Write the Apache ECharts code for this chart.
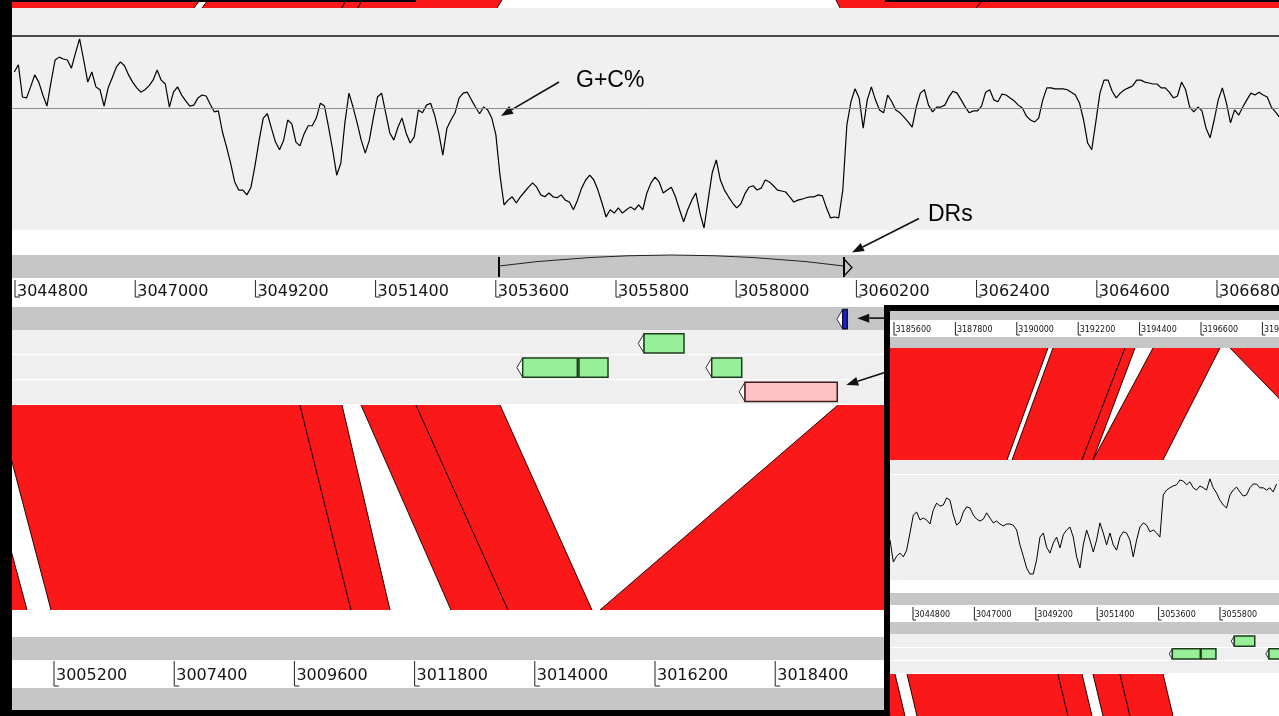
<!DOCTYPE html>
<html>
<head>
<meta charset="utf-8">
<script src="https://cdn.jsdelivr.net/npm/echarts@6/dist/echarts.min.js"></script>
<style>
  html, body { margin: 0; padding: 0; background: #fff; }
  #chart { width: 1279px; height: 716px; }
</style>
</head>
<body>
<div id="chart"></div>
<script>
// ---------- sequence windows shown in each panel (bp) ----------
const mainView     = [3044745, 3067935];   // island-bearing sequence, main view
const lowerView    = [3004431, 3027621];   // compared sequence below
const insetTopView = [3185457, 3199395];   // inset: upper sequence
const insetView    = [3043976, 3057914];   // inset: island-bearing sequence

// ---------- ruler tick labels ----------
const mainTicks     = [3044800, 3047000, 3049200, 3051400, 3053600, 3055800, 3058000, 3060200, 3062400, 3064600, 3066800];
const lowerTicks    = [3005200, 3007400, 3009600, 3011800, 3014000, 3016200, 3018400, 3020600, 3022800, 3025000, 3027200];
const insetTopTicks = [3185600, 3187800, 3190000, 3192200, 3194400, 3196600, 3198800];
const insetTicks    = [3044800, 3047000, 3049200, 3051400, 3053600, 3055800];

// ---------- G+C% sliding-window plot (main view) ----------
const gcMainStart = 3044787;
const gcMainStep = 74.7;
const gcMain = [
  72.5, 74.0, 67.3, 67.1, 69.4, 71.9, 70.4, 67.7, 65.4, 70.4,
  75.0, 75.6, 75.2, 75.0, 73.3, 76.5, 79.4, 75.0, 70.4, 72.5,
  69.4, 68.8, 65.4, 69.2, 71.3, 73.5, 74.6, 73.8, 71.9, 70.4,
  69.2, 68.3, 68.8, 69.6, 70.8, 72.9, 70.8, 70.0, 65.2, 68.3,
  69.4, 67.7, 66.5, 65.4, 65.6, 67.1, 67.7, 67.5, 65.8, 64.2,
  64.4, 60.0, 56.9, 53.5, 49.6, 47.9, 47.9, 46.9, 48.5, 53.1,
  58.3, 62.9, 63.8, 60.8, 57.9, 56.3, 58.3, 62.5, 61.7, 57.9,
  57.1, 59.6, 61.3, 61.3, 62.9, 66.0, 65.4, 61.0, 56.3, 51.0,
  53.5, 61.9, 68.1, 65.2, 61.9, 58.3, 55.6, 58.3, 63.1, 67.3,
  68.1, 64.0, 59.8, 58.3, 61.0, 62.9, 59.8, 57.7, 59.0, 64.6,
  64.0, 65.6, 66.0, 63.5, 59.8, 55.2, 60.8, 62.5, 64.0, 67.1,
  68.1, 68.3, 66.7, 65.2, 63.8, 65.2, 64.6, 62.9, 59.4, 51.0,
  44.8, 45.8, 46.5, 45.2, 46.5, 47.5, 48.5, 49.4, 48.5, 46.9,
  46.5, 47.3, 46.5, 46.3, 46.9, 45.8, 45.4, 43.8, 45.8, 48.3,
  50.0, 51.0, 50.0, 47.9, 45.2, 42.3, 43.8, 43.1, 44.2, 43.1,
  43.8, 44.4, 43.8, 44.8,
  43.8, 47.3, 49.4, 50.6, 49.6, 47.3, 47.9, 48.5, 46.5, 43.8,
  41.3, 43.8, 45.8, 47.3, 43.1, 40.0, 45.8, 51.5, 54.2, 50.0,
  47.9, 46.5, 45.2, 44.2, 45.0, 47.1, 48.5, 48.8, 47.9, 48.3,
  50.0, 49.6, 48.8, 47.9, 47.7, 47.5, 46.5, 45.4, 45.8, 46.0,
  46.3, 46.5, 46.5, 46.9, 46.7, 44.2, 42.1, 42.3, 42.1, 47.9,
  61.5, 66.3, 69.0, 67.1, 60.8, 66.7, 69.4, 66.7, 64.6, 64.0,
  67.7, 66.3, 64.6, 64.0, 63.1, 62.1, 61.0, 65.2, 68.1, 68.8,
  65.6, 64.2, 65.2, 65.2, 65.6, 67.3, 68.5, 68.1, 66.7, 65.2,
  64.0, 64.4, 64.4, 65.4, 68.3, 68.8, 66.7, 66.3, 67.9, 67.7,
  67.1, 66.5, 65.6, 65.0, 63.3, 62.5, 62.1, 62.9, 66.7, 69.2,
  69.2, 69.0, 69.0, 69.0, 68.8, 68.3, 67.7, 66.0, 62.5, 57.7,
  56.3, 62.1, 68.1, 70.8, 70.8, 68.5, 67.1, 68.1, 68.8, 69.2,
  69.6, 70.8, 70.8, 70.4, 70.2, 70.0, 70.0, 69.2, 69.2, 68.3,
  67.1, 67.5, 70.4, 68.8, 65.2, 64.2, 65.2, 64.4, 60.8, 58.8,
  62.5, 66.7, 69.2, 66.0, 61.9, 64.6, 63.5, 65.2, 66.7, 68.1,
  67.7, 68.3, 67.7, 67.3, 65.2, 64.2, 63.1
];

// ---------- G+C% plot (inset view) ----------
const gcInsetStart = 3043976;
const gcInsetStep = 119.4;
const gcInset = [
  62.3, 56.4, 58.0, 58.8, 57.8, 59.6, 64.2, 69.0, 69.8, 67.7,
  68.2, 67.7, 66.6, 70.4, 72.2, 71.4, 71.7, 73.6, 73.0, 69.0,
  66.3, 67.1, 69.8, 71.2, 70.9, 69.0, 67.9, 67.4, 67.9, 69.6,
  68.2, 66.9, 67.4, 66.6, 66.1, 66.6, 66.6, 66.3, 65.0, 61.0,
  58.0, 54.8, 53.2, 53.2, 57.0, 63.1, 64.2, 60.4, 58.8, 61.5,
  63.1, 60.2, 63.7, 65.0, 65.8, 63.1, 57.8, 54.8, 61.0, 65.0,
  62.3, 59.1, 62.3, 66.9, 64.2, 61.0, 64.2, 61.0, 59.6, 63.1,
  64.5, 64.2, 62.3, 57.8, 62.3, 65.8, 66.9, 66.3, 64.5, 65.0,
  64.2, 63.1, 74.4, 75.7, 76.3, 76.8, 77.1, 78.4, 78.1, 77.1,
  77.9, 76.3, 75.7, 76.8, 76.3, 75.7, 78.7, 76.3, 74.9, 73.0,
  71.7, 70.9, 74.4, 75.7, 76.5, 75.2, 74.1, 74.4, 76.3, 77.3,
  77.3, 76.3, 76.3, 75.7, 76.3, 75.2, 77.3
];

// ---------- direct repeats bounding the island ----------
const drRegion = [3053659, 3059973];

// ---------- annotated features (reverse strand) ----------
const geneStart = [3059949, 3056313, 3054092, 3055123, 3057552, 3058161];
const geneEnd   = [3060033, 3057045, 3055092, 3055654, 3058101, 3059850];
const geneTrack = [0, 1, 2, 2, 2, 3];
const geneType  = ['repeat', 'CDS', 'CDS', 'CDS', 'CDS', 'pseudogene'];

// ---------- sequence matches: [upperStart, upperEnd, lowerStart, lowerEnd] ----------
const mainMatches = [
  [3043427, 3044013, 3004029, 3004706],
  [3044471, 3050016, 3005145, 3010636],
  [3050016, 3050785, 3010636, 3011350],
  [3051133, 3052139, 3012466, 3013510],
  [3052139, 3053677, 3013510, 3015047],
  [3059863, 3068136, 3015193, 3027823]
];
// matches leaving the main view upwards (edge positions at the top and bottom of the strip)
const stripMatches = [
  [3044342, 3048186, 3044342, 3048076],
  [3048332, 3050858, 3048223, 3050785],
  [3050858, 3051151, 3050785, 3051078],
  [3051151, 3053714, 3051078, 3053622],
  [3059827, 3062517, 3059900, 3062389],
  [3062517, 3068319, 3062389, 3068319]
];
// inset: upper sequence vs island-bearing sequence
const insetMatches = [
  [3184382, 3191118, 3042901, 3048168],
  [3191297, 3193877, 3048347, 3050855],
  [3193877, 3194235, 3050855, 3051249],
  [3194880, 3197281, 3051249, 3053758],
  [3197639, 3203730, 3060064, 3064041]
];
// inset: matches leaving the inset downwards
const insetLowMatches = [
  [3043618, 3044155, 3043976, 3044513],
  [3044585, 3049995, 3044943, 3050354],
  [3049995, 3050855, 3050354, 3051214],
  [3051249, 3052217, 3051608, 3052575],
  [3052217, 3053758, 3052575, 3054116]
];

// ---------- styling ----------
const RED = '#fa1818';
const EDGE = '#2a0000';
const GRAY = '#c6c6c6';
const LIGHT = '#efefef';
const geneFill = { repeat: '#1a22c8', CDS: '#97f097', pseudogene: '#ffc2c2' };
const geneStroke = { repeat: '#10103a', CDS: '#1d3d1d', pseudogene: '#3d1d1d' };

const chart = echarts.init(document.getElementById('chart'), null, { renderer: 'canvas' });

function matchRender(offset) {
  return function (params, api) {
    const tl = api.coord([api.value(0), 1]);
    const tr = api.coord([api.value(1), 1]);
    const bl = api.coord([api.value(2) + offset, 0]);
    const br = api.coord([api.value(3) + offset, 0]);
    return {
      type: 'group',
      children: [
        { type: 'polygon', shape: { points: [tl, tr, br, bl] }, style: { fill: RED } },
        { type: 'line', shape: { x1: tl[0], y1: tl[1], x2: bl[0], y2: bl[1] }, style: { stroke: EDGE, lineWidth: 1 } },
        { type: 'line', shape: { x1: tr[0], y1: tr[1], x2: br[0], y2: br[1] }, style: { stroke: EDGE, lineWidth: 1 } }
      ]
    };
  };
}

function rulerRender(o) {
  return function (params, api) {
    const x = api.coord([api.value(0), 0])[0];
    const top = params.coordSys.y;
    const t0 = top + o.tickTop, t1 = top + o.tickBottom;
    return {
      type: 'group',
      children: [
        { type: 'line', shape: { x1: x, y1: t0, x2: x, y2: t1 }, style: { stroke: '#222', lineWidth: 1 } },
        { type: 'line', shape: { x1: x, y1: t1, x2: x + o.foot, y2: t1 }, style: { stroke: '#222', lineWidth: 1 } },
        { type: 'text', style: { text: String(api.value(0)), x: x + o.gap, y: top + o.labelY,
          font: o.font, fill: '#151515', verticalAlign: 'middle', align: 'left' } }
      ]
    };
  };
}

function geneRender(params, api) {
  const kind = geneType[params.dataIndex];
  const tr = api.value(2);
  const p0 = api.coord([api.value(0), tr + 0.1]);
  const p1 = api.coord([api.value(1), tr + 0.9]);
  const x0 = p0[0], x1 = p1[0], y0 = p0[1], y1 = p1[1];
  const h = y1 - y0;
  const tip = Math.max(3, h * 0.3);
  return {
    type: 'group',
    children: [
      { type: 'polygon', z2: 1, shape: { points: [[x0 - tip, (y0 + y1) / 2], [x0, y0], [x0, y1]] },
        style: { fill: '#ffffff', stroke: '#333', lineWidth: 1 } },
      { type: 'rect', z2: 2, shape: { x: x0, y: y0, width: Math.max(2, x1 - x0), height: h },
        style: { fill: geneFill[kind], stroke: geneStroke[kind], lineWidth: 1.5 } }
    ]
  };
}

function drRender(params, api) {
  const s = api.coord([api.value(0), 0.5])[0];
  const e = api.coord([api.value(1), 0.5])[0];
  const top = params.coordSys.y, bot = top + params.coordSys.height;
  const yl = top + 11;
  return {
    type: 'group',
    children: [
      { type: 'line', shape: { x1: s, y1: top + 2, x2: s, y2: bot - 1 }, style: { stroke: '#000', lineWidth: 2 } },
      { type: 'bezierCurve', shape: { x1: s, y1: yl, x2: e, y2: yl, cpx1: (s + e) / 2, cpy1: top - 11 },
        style: { stroke: '#222', lineWidth: 1.2, fill: 'none' } },
      { type: 'line', shape: { x1: e, y1: top + 2, x2: e, y2: bot - 1 }, style: { stroke: '#000', lineWidth: 2 } },
      { type: 'polygon', shape: { points: [[e, top + 4], [e + 8, top + 12.5], [e, bot - 2]] },
        style: { fill: 'none', stroke: '#000', lineWidth: 1.2 } }
    ]
  };
}

// ---------- layout ----------
const grids = [
  { left: 12,  top: 36,  width: 1267, height: 192 },   // 0 main G+C%
  { left: 12,  top: 255, width: 1267, height: 23 },    // 1 DR bracket
  { left: 12,  top: 278, width: 1267, height: 28 },    // 2 main ruler
  { left: 12,  top: 307, width: 1267, height: 97 },    // 3 feature tracks
  { left: 12,  top: 405, width: 1267, height: 205 },   // 4 comparison
  { left: 12,  top: 0,   width: 1267, height: 8 },     // 5 comparison strip above
  { left: 12,  top: 660, width: 1267, height: 28 },    // 6 lower ruler
  { left: 890, top: 320, width: 389,  height: 17 },    // 7 inset upper ruler
  { left: 890, top: 348, width: 389,  height: 112 },   // 8 inset comparison
  { left: 890, top: 474, width: 389,  height: 149.3 }, // 9 inset G+C%
  { left: 890, top: 605, width: 389,  height: 17 },    // 10 inset ruler
  { left: 890, top: 622, width: 389,  height: 51 },    // 11 inset feature tracks
  { left: 890, top: 674, width: 389,  height: 42 }     // 12 inset comparison below
].map(g => Object.assign({ containLabel: false, show: false }, g));

const xViews = [mainView, mainView, mainView, mainView, mainView, mainView, lowerView,
                insetTopView, insetTopView, insetView, insetView, insetView, insetView];
const yRanges = [[40, 80], [0, 1], [0, 1], [0, 4, true], [0, 1], [0, 1], [0, 1],
                 [0, 1], [0, 1], [40, 80], [0, 1], [0, 4, true], [0, 1]];

const xAxis = xViews.map((v, i) => ({ type: 'value', gridIndex: i, min: v[0], max: v[1], show: false }));
const yAxis = yRanges.map((r, i) => ({ type: 'value', gridIndex: i, min: r[0], max: r[1], inverse: !!r[2], show: false }));

const mainRuler = { tickTop: 2, tickBottom: 19, labelY: 14, foot: 5, gap: 2, font: '16px "DejaVu Sans"' };
const lowRuler  = { tickTop: 1, tickBottom: 26, labelY: 16, foot: 5, gap: 2, font: '16px "DejaVu Sans"' };
const insetRuler = { tickTop: 2, tickBottom: 15, labelY: 10, foot: 3, gap: 1.5, font: '8px "DejaVu Sans"' };

const gcLine = (start, step, vals) => vals.map((v, i) => [start + i * step, v]);
const gcMarks = (w) => ({
  silent: true, symbol: ['none', 'none'], animation: false, label: { show: false },
  data: [
    { yAxis: 80, lineStyle: { color: '#4a4a4a', width: w, type: 'solid' } },
    { yAxis: 65, lineStyle: { color: '#8c8c8c', width: 1, type: 'solid' } }
  ]
});
const geneData = geneStart.map((s, i) => [s, geneEnd[i], geneTrack[i]]);

const series = [
  { type: 'line', xAxisIndex: 0, yAxisIndex: 0, z: 3, showSymbol: false, silent: true,
    data: gcLine(gcMainStart, gcMainStep, gcMain), lineStyle: { color: '#000', width: 1.2 },
    markLine: gcMarks(2) },
  { type: 'custom', xAxisIndex: 1, yAxisIndex: 1, z: 3, renderItem: drRender, data: [drRegion] },
  { type: 'custom', xAxisIndex: 2, yAxisIndex: 2, z: 3, renderItem: rulerRender(mainRuler), data: mainTicks.map(t => [t, 0]) },
  { type: 'custom', xAxisIndex: 3, yAxisIndex: 3, z: 3, clip: true, renderItem: geneRender, data: geneData },
  { type: 'custom', xAxisIndex: 4, yAxisIndex: 4, z: 2, clip: true,
    renderItem: matchRender(mainView[0] - lowerView[0]), data: mainMatches },
  { type: 'custom', xAxisIndex: 5, yAxisIndex: 5, z: 2, clip: true, renderItem: matchRender(0), data: stripMatches },
  { type: 'custom', xAxisIndex: 6, yAxisIndex: 6, z: 3, renderItem: rulerRender(lowRuler), data: lowerTicks.map(t => [t, 0]) },
  // inset
  { type: 'custom', xAxisIndex: 7, yAxisIndex: 7, z: 60, clip: true, renderItem: rulerRender(insetRuler), data: insetTopTicks.map(t => [t, 0]) },
  { type: 'custom', xAxisIndex: 8, yAxisIndex: 8, z: 60, clip: true,
    renderItem: matchRender(insetTopView[0] - insetView[0]), data: insetMatches },
  { type: 'line', xAxisIndex: 9, yAxisIndex: 9, z: 60, showSymbol: false, silent: true,
    data: gcLine(gcInsetStart, gcInsetStep, gcInset), lineStyle: { color: '#000', width: 1 },
    markLine: gcMarks(1.2) },
  { type: 'custom', xAxisIndex: 10, yAxisIndex: 10, z: 60, clip: true, renderItem: rulerRender(insetRuler), data: insetTicks.map(t => [t, 0]) },
  { type: 'custom', xAxisIndex: 11, yAxisIndex: 11, z: 60, clip: true, renderItem: geneRender, data: geneData },
  { type: 'custom', xAxisIndex: 12, yAxisIndex: 12, z: 60, clip: true, renderItem: matchRender(0), data: insetLowMatches }
];

// ---------- panel bands and frames ----------
const band = (id, x, y, w, h, fill, z) => ({ id, type: 'rect', z, silent: true, shape: { x, y, width: w, height: h }, style: { fill } });
const graphic = [
  band('b-top', 12, 8, 1267, 28, LIGHT, 1),
  band('b-gc', 12, 37, 1267, 193, '#f0f0f0', 1),
  band('b-dr', 12, 255, 1267, 23, GRAY, 1),
  band('b-t0', 12, 307, 1267, 23, GRAY, 1),
  band('b-t1', 12, 330, 1267, 24, LIGHT, 1),
  band('b-t2', 12, 355, 1267, 24, LIGHT, 1),
  band('b-t3', 12, 380, 1267, 24, LIGHT, 1),
  band('b-l1', 12, 637, 1267, 23, GRAY, 1),
  band('b-l2', 12, 688, 1267, 22, GRAY, 1),
  // inset panel
  band('i-frame', 884, 305, 395, 411, '#000', 50),
  band('i-bg', 890, 311, 389, 405, '#fff', 51),
  band('i-g1', 890, 311, 389, 9, GRAY, 52),
  band('i-g2', 890, 337, 389, 11, GRAY, 52),
  band('i-l0', 890, 460, 389, 14, '#ececec', 52),
  band('i-gc', 890, 475, 389, 105, '#f0f0f0', 52),
  band('i-g3', 890, 593, 389, 12, GRAY, 52),
  band('i-g4', 890, 622, 389, 12, GRAY, 52),
  band('i-t1', 890, 634, 389, 13, LIGHT, 52),
  band('i-t2', 890, 648, 389, 12, LIGHT, 52),
  band('i-t3', 890, 661, 389, 12, LIGHT, 52),
  // main frame
  band('f-left', 0, 0, 12, 716, '#000', 100),
  band('f-bottom', 0, 710, 884, 6, '#000', 100),
  band('f-top1', 0, 0, 416, 2, '#000', 100),
  band('f-top2', 885, 0, 394, 2, '#000', 100)
];

chart.setOption({
  animation: false,
  backgroundColor: '#ffffff',
  grid: grids,
  xAxis: xAxis,
  yAxis: yAxis,
  series: series,
  graphic: graphic
});

// ---------- call-outs anchored to the marks they label ----------
function arrow(id, tail, tip, z) {
  const dx = tip[0] - tail[0], dy = tip[1] - tail[1];
  const L = Math.hypot(dx, dy), ux = dx / L, uy = dy / L;
  const hl = 12, hw = 4.5;
  const bx = tip[0] - ux * hl, by = tip[1] - uy * hl;
  return [
    { id: id + '-line', type: 'line', z, silent: true,
      shape: { x1: tail[0], y1: tail[1], x2: bx, y2: by }, style: { stroke: '#111', lineWidth: 1.6 } },
    { id: id + '-head', type: 'polygon', z, silent: true,
      shape: { points: [tip, [bx - uy * hw, by + ux * hw], [bx + uy * hw, by - ux * hw]] }, style: { fill: '#111' } }
  ];
}
const add = (p, d) => [p[0] + d[0], p[1] + d[1]];
const calloutFont = '23px "Liberation Sans", Arial, sans-serif';

const gcTip = add(chart.convertToPixel({ gridIndex: 0 }, [drRegion[0], 65]), [2, 8]);
const gcTail = add(gcTip, [58, -34]);
const drTip = add(chart.convertToPixel({ gridIndex: 1 }, [drRegion[1], 0.5]), [8, -14]);
const drTail = add(drTip, [67, -34]);
const blueTip = add(chart.convertToPixel({ gridIndex: 3 }, [geneEnd[0], geneTrack[0] + 0.5]), [10, -1]);
const pinkTip = add(chart.convertToPixel({ gridIndex: 3 }, [geneEnd[5], geneTrack[5] + 0.3]), [9, -2]);

const callouts = [].concat(
  arrow('a-gc', gcTail, gcTip, 5),
  arrow('a-dr', drTail, drTip, 5),
  arrow('a-blue', add(blueTip, [40, 0]), blueTip, 5),
  arrow('a-pink', add(pinkTip, [40, -13]), pinkTip, 5),
  [
    { id: 't-gc', type: 'text', z: 5, silent: true,
      style: { text: 'G+C%', x: gcTail[0] + 17, y: gcTail[1] - 1, font: calloutFont, fill: '#000', verticalAlign: 'middle' } },
    { id: 't-dr', type: 'text', z: 5, silent: true,
      style: { text: 'DRs', x: drTail[0] + 9, y: drTail[1] - 3.5, font: calloutFont, fill: '#000', verticalAlign: 'middle' } }
  ]
);
chart.setOption({ graphic: callouts });
</script>
</body>
</html>
